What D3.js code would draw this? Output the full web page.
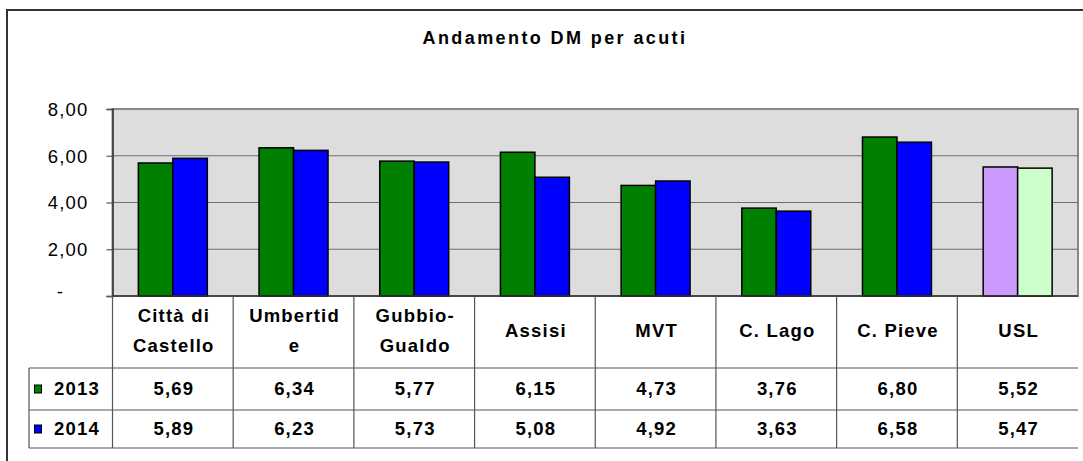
<!DOCTYPE html>
<html>
  <head>
    <meta charset="utf-8">
    <style>
      body { margin: 0; background: #fff; }
      text { font-family: "Liberation Sans", Arial, sans-serif; fill: #000; }
      .title { font-size: 18px; font-weight: bold; letter-spacing: 2.4px; }
      .ylab { font-size: 18.5px; letter-spacing: 1.2px; }
      .cell { font-size: 18.5px; font-weight: bold; letter-spacing: 1.2px; }
    </style>
  </head>
  <body>
    <div id="chart"></div>
    <script src="https://d3js.org/d3.v7.min.js"></script>
    <script>
      // data
      var categories = ["Città di Castello", "Umbertide", "Gubbio-Gualdo", "Assisi", "MVT", "C. Lago", "C. Pieve", "USL"];
      var categoryLines = [["Città di", "Castello"], ["Umbertid", "e"], ["Gubbio-", "Gualdo"], ["Assisi"], ["MVT"], ["C. Lago"], ["C. Pieve"], ["USL"]];
      var seriesNames = ["2013", "2014"];
      var values2013 = [5.69, 6.34, 5.77, 6.15, 4.73, 3.76, 6.80, 5.52];
      var values2014 = [5.89, 6.23, 5.73, 5.08, 4.92, 3.63, 6.58, 5.47];
      var yTicks = [0, 2, 4, 6, 8];

      var seriesColors = ["#008000", "#0000ff"];
      var uslColors = ["#cc99ff", "#ccffcc"];
      var allValues = [values2013, values2014];

      var width = 1083, height = 461;
      var plot = { left: 112.5, right: 1078, top: 109, bottom: 296 };
      var rows = { header: 368, r1: 410, r2: 448, legendLeft: 29 };

      var svg = d3.select("#chart").append("svg")
        .attr("width", width)
        .attr("height", height);

      // outer chart frame
      svg.append("rect")
        .attr("x", 7).attr("y", 10)
        .attr("width", width + 10).attr("height", height + 10)
        .attr("fill", "#fff")
        .attr("stroke", "#333").attr("stroke-width", 2);

      svg.append("text")
        .attr("class", "title")
        .attr("x", 555).attr("y", 43.5)
        .attr("text-anchor", "middle")
        .text("Andamento DM per acuti");

      var x = d3.scaleBand().domain(categories).range([plot.left, plot.right]);
      var xs = d3.scaleBand().domain(seriesNames).range([0, x.bandwidth()])
        .paddingInner(0).paddingOuter(0.75);
      var y = d3.scaleLinear().domain([0, 8]).range([plot.bottom, plot.top]);

      // plot background
      svg.append("rect")
        .attr("x", plot.left).attr("y", plot.top)
        .attr("width", plot.right - plot.left).attr("height", plot.bottom - plot.top)
        .attr("fill", "#dddddd")
        .attr("stroke", "#888").attr("stroke-width", 2);

      // gridlines
      svg.append("g").selectAll("line")
        .data(yTicks.filter(d => d > 0 && d < 8))
        .enter().append("line")
        .attr("x1", plot.left).attr("x2", plot.right)
        .attr("y1", d => y(d)).attr("y2", d => y(d))
        .attr("stroke", "#6e6e6e").attr("stroke-width", 1.2);

      // y axis
      var yAxis = svg.append("g")
        .attr("transform", "translate(" + plot.left + ",0)")
        .call(d3.axisLeft(y).tickValues(yTicks).tickSize(6).tickPadding(18)
          .tickFormat(d => d === 0 ? "-" : d3.format(".2f")(d).replace(".", ",")));
      yAxis.select(".domain").attr("stroke", "#333").attr("stroke-width", 1.5);
      yAxis.selectAll(".tick line").attr("stroke", "#555").attr("stroke-width", 1.2);
      yAxis.selectAll(".tick text")
        .attr("class", "ylab")
        .attr("font-family", null).attr("font-size", null)
        .attr("dy", "0.35em");
      yAxis.selectAll(".tick text").filter(d => d === 0)
        .attr("text-anchor", "middle").attr("x", -52).attr("dy", "0.1em");

      // bars
      var groups = svg.append("g").selectAll("g")
        .data(categories)
        .enter().append("g")
        .attr("transform", d => "translate(" + x(d) + ",0)");

      groups.selectAll("rect")
        .data((c, i) => seriesNames.map((s, j) => ({ cat: c, s: s, j: j, v: allValues[j][i] })))
        .enter().append("rect")
        .attr("x", d => xs(d.s))
        .attr("width", xs.bandwidth())
        .attr("y", d => y(d.v))
        .attr("height", d => y(0) - y(d.v))
        .attr("fill", d => d.cat === "USL" ? uslColors[d.j] : seriesColors[d.j])
        .attr("stroke", "#000").attr("stroke-width", 1.5);

      // x axis line
      svg.append("line")
        .attr("x1", plot.left).attr("x2", plot.right)
        .attr("y1", plot.bottom).attr("y2", plot.bottom)
        .attr("stroke", "#333").attr("stroke-width", 1.5);

      // data table grid
      var grid = svg.append("g").attr("stroke", "#555").attr("stroke-width", 1.2);
      [rows.header, rows.r1, rows.r2].forEach(function (yy) {
        grid.append("line")
          .attr("x1", rows.legendLeft).attr("x2", plot.right)
          .attr("y1", yy).attr("y2", yy);
      });
      grid.append("line")
        .attr("x1", rows.legendLeft).attr("x2", rows.legendLeft)
        .attr("y1", rows.header).attr("y2", rows.r2);
      grid.selectAll(".vline")
        .data(categories)
        .enter().append("line")
        .attr("x1", d => x(d)).attr("x2", d => x(d))
        .attr("y1", plot.bottom).attr("y2", rows.r2);

      // header labels
      groups.append("text")
        .attr("class", "cell")
        .attr("text-anchor", "middle")
        .each(function (c, i) {
          var lines = categoryLines[i];
          var t = d3.select(this);
          var cy = 330.5;
          lines.forEach(function (l, k) {
            t.append("tspan")
              .attr("x", x.bandwidth() / 2 + 1)
              .attr("y", cy + (k - (lines.length - 1) / 2) * 29.5)
              .attr("dy", "0.35em")
              .text(l);
          });
        });

      // values rows
      var rowCenters = [(rows.header + rows.r1) / 2, (rows.r1 + rows.r2) / 2];
      allValues.forEach(function (vals, j) {
        groups.append("text")
          .attr("class", "cell")
          .attr("text-anchor", "middle")
          .attr("x", x.bandwidth() / 2 + 1)
          .attr("y", rowCenters[j])
          .attr("dy", "0.35em")
          .text((c, i) => d3.format(".2f")(vals[i]).replace(".", ","));
      });

      // legend keys in table
      seriesNames.forEach(function (s, j) {
        svg.append("rect")
          .attr("x", 34.5).attr("y", rowCenters[j] - 4)
          .attr("width", 7).attr("height", 8)
          .attr("fill", seriesColors[j])
          .attr("stroke", "#000").attr("stroke-width", 1);
        svg.append("text")
          .attr("class", "cell")
          .attr("x", 54).attr("y", rowCenters[j])
          .attr("dy", "0.35em")
          .text(s);
      });
    </script>
  </body>
</html>
